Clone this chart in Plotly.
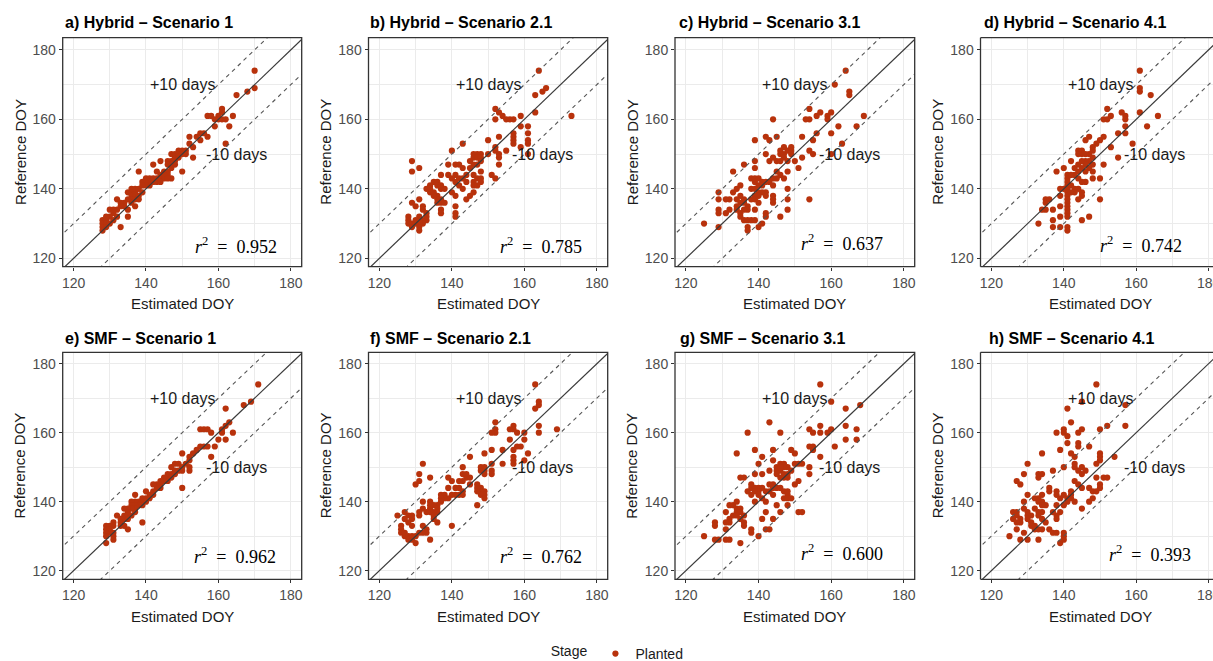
import plotly.graph_objects as go

W, H = 1213, 661

# ---------------------------------------------------------------- data
panel_titles = [
    "a) Hybrid – Scenario 1", "b) Hybrid – Scenario 2.1",
    "c) Hybrid – Scenario 3.1", "d) Hybrid – Scenario 4.1",
    "e) SMF – Scenario 1", "f) SMF – Scenario 2.1",
    "g) SMF – Scenario 3.1", "h) SMF – Scenario 4.1",
]
r2_values = ["0.952", "0.785", "0.637", "0.742", "0.962", "0.762", "0.600", "0.393"]
tick_values = [120, 140, 160, 180]
minor_ticks = [130, 150, 170]
offset_days = 10

# (estimated DOY, reference DOY) pairs per panel
hybrid_s1 = [(170,174),(170,169),(168,168),(165,167),(164,161),(163,158),(162,153),(161,163),(161,162),(160,161),(157,161),(158,161),(159,160),(160,160),(161,160),(162,160),(159,158),(156,156),(155,156),(157,155),(154,155),(155,154),(152,155),(152,153),(153,152),(151,151),(151,150),(153,149),(149,151),(150,151),(147,150),(148,149),(148,150),(149,149),(147,148),(148,148),(146,148),(147,147),(146,147),(148,147),(147,146),(147,143),(150,145),(144,148),(142,147),(138,145),(143,145),(145,145),(146,145),(140,143),(141,143),(142,143),(143,143),(141,142),(142,142),(143,142),(144,143),(145,143),(146,144),(140,142),(139,142),(141,141),(140,141),(144,144),(145,144),(146,143),(135,139),(136,139),(137,139),(136,140),(137,140),(138,140),(136,138),(137,138),(138,138),(139,139),(136,137),(137,137),(138,137),(136,136),(137,135),(134,136),(135,137),(134,135),(135,134),(135,132),(133,129),(132,137),(133,136),(133,135),(132,134),(130,134),(131,134),(131,133),(132,132),(130,132),(131,131),(128,131),(128,130),(129,131),(129,130),(128,129),(129,132),(128,128),(129,129),(130,130),(139,141),(144,142),(150,150),(149,150)]
hybrid_s2 = [(164,174),(163,167),(165,168),(166,169),(163,162),(173,161),(159,161),(159,158),(161,158),(161,156),(161,154),(161,153),(159,152),(161,150),(152,163),(153,162),(154,161),(155,160),(156,160),(157,160),(152,160),(157,156),(157,155),(157,154),(157,153),(155,151),(153,155),(150,154),(150,150),(152,152),(152,151),(153,150),(153,149),(153,147),(151,144),(152,143),(143,153),(147,150),(148,150),(146,150),(146,149),(147,149),(148,149),(148,148),(146,147),(147,147),(145,148),(148,145),(146,144),(147,143),(146,142),(146,141),(147,141),(146,139),(145,138),(144,137),(148,143),(148,142),(140,151),(139,147),(141,147),(142,147),(143,146),(139,144),(141,144),(142,143),(143,143),(144,142),(141,142),(140,143),(142,141),(143,140),(140,139),(141,138),(141,135),(141,133),(141,132),(137,144),(135,142),(136,142),(137,140),(138,140),(136,141),(137,141),(134,141),(134,139),(135,139),(136,138),(137,137),(136,137),(135,138),(137,136),(138,136),(136,136),(133,140),(134,140),(137,134),(137,133),(132,135),(132,134),(133,133),(133,131),(132,131),(131,132),(132,130),(129,136),(130,135),(131,137),(129,148),(129,145),(131,146),(128,132),(128,131),(128,130),(129,130),(129,129),(130,131),(130,130),(131,130),(131,129),(131,128),(131,131),(133,132),(144,144),(145,146)]
hybrid_s3 = [(164,174),(165,168),(165,167),(161,170),(154,163),(154,160),(153,160),(156,161),(157,162),(159,161),(159,160),(160,162),(160,156),(162,158),(167,158),(169,161),(163,153),(160,150),(156,156),(155,154),(152,155),(154,151),(155,150),(152,149),(150,148),(151,146),(154,137),(144,160),(139,154),(142,155),(145,155),(143,154),(142,150),(143,148),(144,149),(145,148),(146,150),(147,150),(148,151),(149,151),(147,149),(146,148),(148,148),(149,150),(146,151),(147,152),(149,152),(148,145),(145,145),(146,144),(147,143),(145,143),(144,143),(144,141),(143,142),(148,140),(148,137),(148,134),(146,132),(144,138),(144,137),(144,136),(142,139),(142,138),(139,148),(139,146),(136,147),(133,145),(138,143),(139,143),(140,143),(141,142),(142,142),(139,142),(140,141),(141,141),(138,140),(139,140),(140,139),(141,139),(139,138),(140,138),(138,137),(139,137),(135,141),(134,140),(133,139),(135,138),(136,137),(136,136),(137,135),(137,134),(136,134),(134,137),(135,136),(134,135),(134,134),(135,133),(132,137),(132,134),(131,137),(129,139),(129,137),(129,134),(129,133),(131,133),(125,130),(129,129),(135,132),(136,131),(137,131),(137,129),(137,128),(138,131),(139,131),(139,134),(140,136),(140,129),(141,130),(142,133),(142,132)]
hybrid_s4 = [(161,174),(161,169),(161,168),(164,167),(161,162),(166,161),(163,158),(159,153),(152,163),(153,161),(151,160),(152,160),(156,162),(157,161),(157,160),(157,158),(155,156),(157,156),(153,152),(151,155),(150,154),(149,153),(148,152),(155,149),(151,147),(150,143),(150,137),(148,151),(148,149),(148,147),(148,145),(148,143),(147,150),(147,148),(147,146),(146,148),(146,147),(146,145),(145,146),(145,151),(145,150),(145,148),(147,155),(146,154),(144,151),(144,150),(144,147),(144,145),(144,143),(143,144),(145,142),(146,142),(145,139),(145,138),(144,140),(144,137),(143,140),(143,139),(142,148),(140,146),(138,145),(147,132),(145,131),(141,144),(141,143),(141,142),(141,141),(141,140),(141,139),(141,138),(141,137),(141,136),(141,135),(141,134),(141,133),(141,132),(142,141),(142,139),(141,129),(141,128),(139,140),(139,138),(139,135),(139,132),(139,129),(140,140),(137,134),(137,131),(137,129),(135,137),(136,137),(135,136),(135,134),(134,134),(133,130),(142,144),(143,146),(146,150)]
smf_s1 = [(171,174),(169,169),(167,168),(162,167),(163,163),(162,162),(161,161),(161,160),(164,160),(162,158),(160,158),(159,156),(158,153),(155,161),(156,161),(157,161),(158,160),(155,156),(156,156),(157,156),(154,155),(153,154),(152,153),(152,152),(150,154),(150,144),(152,149),(148,151),(149,151),(150,150),(147,150),(148,149),(149,149),(150,149),(147,148),(146,148),(148,148),(146,147),(147,147),(145,147),(146,146),(145,146),(144,145),(143,145),(144,144),(143,144),(142,145),(142,143),(140,143),(141,142),(142,142),(141,141),(140,141),(139,141),(138,140),(139,140),(140,140),(139,139),(137,142),(137,140),(138,139),(139,134),(136,140),(137,139),(136,139),(137,138),(136,138),(137,137),(135,138),(134,138),(135,137),(136,136),(134,136),(135,136),(134,135),(135,135),(132,136),(133,135),(133,134),(133,133),(134,133),(135,132),(131,134),(131,133),(129,133),(130,133),(129,132),(130,132),(131,131),(130,131),(129,131),(131,130),(129,130),(131,129),(129,128),(151,151),(152,150),(144,146)]
smf_s2 = [(163,174),(163,167),(164,168),(164,169),(164,162),(164,160),(169,161),(160,160),(160,158),(158,160),(157,162),(157,161),(156,161),(159,156),(158,156),(157,155),(157,153),(157,152),(160,152),(161,154),(157,151),(156,158),(152,163),(152,161),(152,160),(151,160),(154,155),(154,151),(151,155),(151,151),(151,149),(151,148),(148,149),(149,149),(149,148),(148,150),(149,150),(149,154),(145,153),(143,150),(143,148),(144,147),(143,146),(142,146),(142,144),(145,147),(147,145),(148,144),(148,143),(149,143),(149,142),(148,142),(147,144),(147,143),(147,139),(149,141),(145,145),(143,143),(143,142),(141,144),(142,142),(141,142),(140,142),(139,147),(140,146),(139,144),(140,133),(137,142),(138,142),(139,141),(138,141),(137,141),(136,139),(137,140),(135,139),(136,138),(134,138),(135,137),(136,137),(134,137),(135,136),(135,135),(136,134),(134,140),(134,139),(134,147),(132,151),(131,148),(130,145),(131,146),(132,140),(132,138),(133,137),(131,137),(131,136),(132,133),(133,132),(133,131),(132,131),(134,129),(127,137),(128,136),(129,136),(129,135),(127,135),(128,134),(129,133),(125,136),(126,133),(126,132),(126,131),(127,130),(127,131),(128,130),(128,129),(129,129),(129,130),(130,128),(131,131),(130,130),(144,148)]
smf_s3 = [(157,174),(160,169),(164,167),(168,168),(157,162),(159,160),(160,161),(154,161),(155,160),(157,160),(164,162),(164,158),(167,161),(167,158),(161,156),(154,156),(155,156),(155,155),(157,153),(154,150),(154,148),(150,154),(149,155),(150,151),(151,151),(152,151),(151,146),(150,145),(152,137),(151,137),(144,155),(144,152),(146,160),(143,163),(137,160),(134,154),(139,155),(141,153),(140,151),(139,148),(135,147),(136,147),(141,148),(143,149),(145,150),(145,149),(145,148),(146,151),(147,151),(148,150),(149,149),(146,149),(147,148),(148,148),(146,147),(147,147),(148,147),(147,150),(146,150),(144,145),(145,144),(143,143),(144,142),(146,144),(147,143),(148,142),(147,141),(148,141),(149,141),(148,143),(148,139),(146,137),(145,139),(141,144),(142,143),(138,144),(139,144),(140,144),(140,143),(139,143),(137,143),(138,142),(138,145),(140,142),(141,141),(142,140),(139,140),(142,137),(141,135),(142,132),(143,132),(144,135),(140,130),(138,132),(138,131),(136,134),(136,133),(136,136),(135,135),(134,138),(135,138),(134,137),(135,137),(133,136),(134,136),(132,139),(133,139),(134,140),(131,137),(132,135),(132,134),(131,134),(128,134),(128,133),(129,129),(131,129),(128,129),(132,129),(135,128),(131,132),(125,130),(143,145),(144,144)]
smf_s4 = [(149,174),(145,169),(141,167),(157,168),(157,162),(152,162),(150,161),(145,161),(142,163),(140,161),(140,160),(138,160),(144,160),(141,159),(141,157),(144,157),(144,156),(147,156),(139,155),(143,153),(142,154),(150,154),(150,153),(150,152),(154,153),(149,151),(134,154),(130,151),(129,148),(127,146),(128,145),(133,148),(133,147),(134,148),(137,149),(140,150),(143,151),(143,150),(144,149),(145,148),(145,150),(146,149),(144,145),(145,144),(143,146),(147,144),(148,143),(149,143),(150,145),(150,144),(151,147),(152,147),(149,147),(148,141),(147,140),(145,138),(142,143),(142,142),(142,141),(143,140),(140,142),(141,141),(141,140),(140,139),(138,143),(138,142),(139,141),(136,144),(136,143),(138,139),(139,137),(137,137),(138,136),(138,135),(134,142),(133,141),(134,140),(135,139),(132,141),(133,140),(134,139),(132,138),(133,137),(134,137),(133,136),(134,135),(135,134),(129,140),(130,142),(129,138),(130,137),(131,136),(130,136),(130,135),(131,134),(132,133),(131,133),(132,132),(133,132),(134,132),(128,135),(128,134),(126,137),(126,135),(127,137),(127,136),(127,134),(127,132),(129,131),(128,129),(130,129),(133,129),(125,130),(136,132),(137,131),(138,131),(140,130),(140,131),(139,128),(140,129)]

panels = [hybrid_s1, hybrid_s2, hybrid_s3, hybrid_s4, smf_s1, smf_s2, smf_s3, smf_s4]

# ---------------------------------------------------------------- layout geometry (pixels)
col_px = [(62.7, 301.7), (368.5, 607.7), (675.0, 914.7), (980.5, 1219.5)]
row_px = [(37.7, 266.7), (352.3, 579.3)]
title_x_px = [63.3, 368.3, 676.7, 981.7, 63.3, 368.0, 678.0, 987.0]
x_range = (117.0, 183.0)
y_ranges = [(117.6, 183.5), (117.5, 183.3)]
r2_pos = [(164.8, 123.6), (164.7, 123.8), (163.1, 124.6), (161.4, 124.1),
          (164.6, 124.5), (164.5, 124.5), (163.1, 125.3), (163.7, 125.0)]

POINT = "#B8320C"
GRID = "#EBEBEB"
FRAME = "#333333"
TEXT = "#1A1A1A"
TICKTEXT = "#4D4D4D"
SANS = "Liberation Sans, Arial, sans-serif"
SERIF = "Liberation Serif, Times New Roman, serif"


def px_x(p):
    return p / W


def px_y(p):
    return 1 - p / H


fig = go.Figure()
annotations = []
shapes = []
layout_axes = {}

for k, pts in enumerate(panels):
    row, col = divmod(k, 4)
    idx = k + 1
    xs = "" if idx == 1 else str(idx)
    xref, yref = f"x{xs}", f"y{xs}"
    est = [p[0] for p in pts]
    ref = [p[1] for p in pts]

    fig.add_trace(go.Scatter(
        x=est, y=ref, mode="markers", xaxis=xref, yaxis=yref,
        marker=dict(color=POINT, size=6.2, line=dict(width=0)),
        name="Planted", legendgroup="planted", showlegend=(k == 0),
    ))
    # 1:1 line and +/- offset lines
    fig.add_trace(go.Scatter(
        x=[100, 200], y=[100, 200], mode="lines", xaxis=xref, yaxis=yref,
        line=dict(color="#3A3A3A", width=1.2), showlegend=False, hoverinfo="skip"))
    for sign in (1, -1):
        fig.add_trace(go.Scatter(
            x=[100, 200], y=[100 + sign * offset_days, 200 + sign * offset_days],
            mode="lines", xaxis=xref, yaxis=yref,
            line=dict(color="#555555", width=1.1, dash="4px,4px"),
            showlegend=False, hoverinfo="skip"))

    x0, x1 = col_px[col]
    y0, y1 = row_px[row]
    clipped = x1 > W
    xr = list(x_range)
    if clipped:
        xr[1] = x_range[0] + (W - x0) * (x_range[1] - x_range[0]) / (x1 - x0)
        x1 = W

    common = dict(
        tickvals=tick_values, ticks="outside", ticklen=3, tickwidth=1,
        tickcolor=FRAME, showgrid=True, gridcolor=GRID, gridwidth=1.1,
        zeroline=False, showline=False,
        tickfont=dict(family=SANS, size=14, color=TICKTEXT),
        minor=dict(tickvals=minor_ticks, showgrid=True, gridcolor=GRID,
                   gridwidth=0.9, ticks=""),
    )
    layout_axes[f"xaxis{xs}"] = dict(
        common, domain=[px_x(x0), px_x(x1)], range=xr, anchor=yref,
        ticklabeloverflow="allow")
    layout_axes[f"yaxis{xs}"] = dict(
        common, domain=[px_y(y1), px_y(y0)], range=list(y_ranges[row]),
        anchor=xref)

    # panel border
    dx, dy = f"{xref} domain", f"{yref} domain"
    border = dict(color=FRAME, width=1.3)
    if clipped:
        for (a0, b0, a1, b1) in [(0, 0, 0, 1), (0, 1, 1, 1), (0, 0, 1, 0)]:
            shapes.append(dict(type="line", xref=dx, yref=dy,
                               x0=a0, y0=b0, x1=a1, y1=b1, line=border))
    else:
        shapes.append(dict(type="rect", xref=dx, yref=dy,
                           x0=0, y0=0, x1=1, y1=1, line=border))

    # panel title
    annotations.append(dict(
        text=f"<b>{panel_titles[k]}</b>", xref="paper", yref="paper",
        x=px_x(title_x_px[k]), y=px_y(22.7 if row == 0 else 338.3),
        xanchor="left", yanchor="middle", showarrow=False,
        font=dict(family=SANS, size=16, color="#000000")))
    # axis titles
    annotations.append(dict(
        text="Estimated DOY", xref="paper", yref="paper",
        x=px_x(col_px[col][0] + 119.5), y=px_y(303.5 if row == 0 else 616.5),
        xanchor="center", yanchor="middle", showarrow=False,
        font=dict(family=SANS, size=15, color=TEXT)))
    annotations.append(dict(
        text="Reference DOY", xref="paper", yref="paper", textangle=-90,
        x=px_x(col_px[col][0] - 43), y=px_y((y0 + y1) / 2),
        xanchor="center", yanchor="middle", showarrow=False,
        font=dict(family=SANS, size=15, color=TEXT)))
    # offset labels
    annotations.append(dict(
        text="+10 days", xref=xref, yref=yref, x=150, y=170,
        showarrow=False, font=dict(family=SANS, size=16, color=TEXT)))
    annotations.append(dict(
        text="-10 days", xref=xref, yref=yref, x=165, y=150,
        showarrow=False, font=dict(family=SANS, size=16, color=TEXT)))
    # r-squared
    rx, ry = r2_pos[k]
    annotations.append(dict(
        text=f"<i>r</i><sup>2</sup>\u2002=\u2002{r2_values[k]}",
        xref=xref, yref=yref, x=rx, y=ry, showarrow=False,
        font=dict(family=SERIF, size=18, color="#000000")))

fig.update_layout(
    width=W, height=H,
    margin=dict(l=0, r=0, t=0, b=0, autoexpand=False),
    paper_bgcolor="white", plot_bgcolor="white",
    showlegend=True,
    legend=dict(
        orientation="h", x=0.51, xanchor="center", y=px_y(654), yanchor="middle",
        title=dict(text="Stage", font=dict(family=SANS, size=14, color=TEXT)),
        font=dict(family=SANS, size=14, color=TEXT), bgcolor="rgba(0,0,0,0)",
        itemsizing="trace",
    ),
    annotations=annotations, shapes=shapes, hovermode=False,
    **layout_axes,
)

fig.write_html("out.html")
